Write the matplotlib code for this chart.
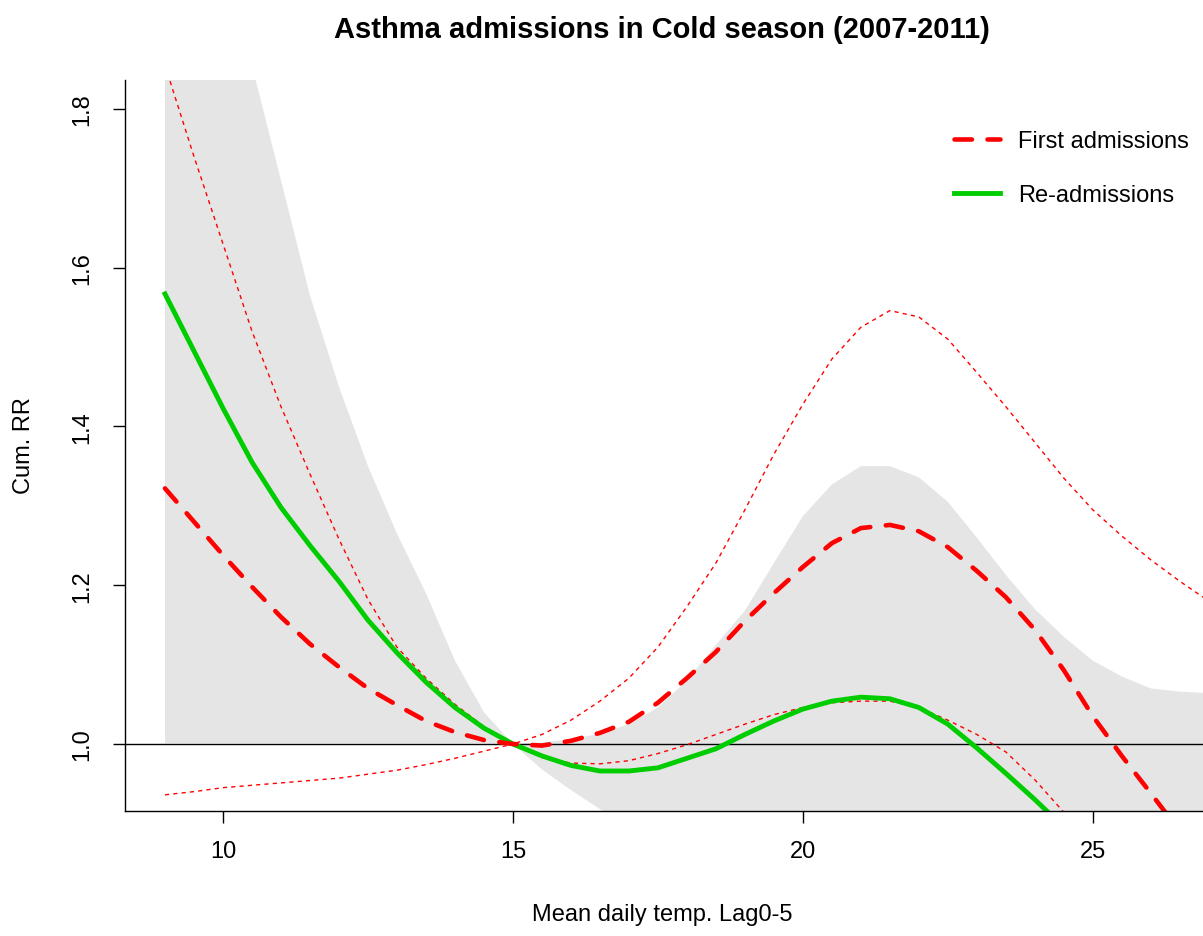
#!/usr/bin/env python

import matplotlib
matplotlib.use('Agg')
import matplotlib.pyplot as plt

plt.rcParams['font.family'] = ['Liberation Sans', 'DejaVu Sans']

# # Cumulative RR curves (lag 0-5), cold season

temp = [9.0, 9.5, 10.0, 10.5, 11.0, 11.5, 12.0, 12.5, 13.0, 13.5, 14.0, 14.5,
        15.0, 15.5, 16.0, 16.5, 17.0, 17.5, 18.0, 18.5, 19.0, 19.5, 20.0, 20.5,
        21.0, 21.5, 22.0, 22.5, 23.0, 23.5, 24.0, 24.5, 25.0, 25.5, 26.0, 26.5, 27.0]

# First admissions: estimate + 95% CI (red)
rr_first = [1.322, 1.280, 1.238, 1.198, 1.160, 1.126, 1.097, 1.070, 1.049, 1.029, 1.015, 1.005,
            1.000, 0.998, 1.004, 1.014, 1.028, 1.052, 1.083, 1.116, 1.155, 1.190, 1.223, 1.253,
            1.272, 1.276, 1.268, 1.248, 1.218, 1.185, 1.144, 1.093, 1.035, 0.985, 0.938, 0.890, 0.845]
hi_first = [1.855, 1.740, 1.630, 1.520, 1.425, 1.340, 1.258, 1.182, 1.122, 1.083, 1.050, 1.022,
            1.000, 1.012, 1.030, 1.054, 1.083, 1.122, 1.173, 1.228, 1.295, 1.365, 1.428, 1.485,
            1.525, 1.546, 1.538, 1.510, 1.468, 1.425, 1.380, 1.335, 1.295, 1.262, 1.232, 1.205, 1.180]
lo_first = [0.936, 0.940, 0.945, 0.948, 0.951, 0.954, 0.957, 0.962, 0.967, 0.974, 0.982, 0.991,
            1.000, 0.983, 0.976, 0.975, 0.979, 0.988, 0.999, 1.012, 1.025, 1.037, 1.046, 1.052,
            1.054, 1.054, 1.046, 1.030, 1.012, 0.990, 0.955, 0.914, 0.870, 0.820, 0.770, 0.720, 0.670]

# Re-admissions: estimate (green) + 95% CI (grey band)
rr_re = [1.567, 1.495, 1.423, 1.355, 1.298, 1.250, 1.205, 1.156, 1.115, 1.078, 1.046, 1.020,
         1.000, 0.985, 0.973, 0.966, 0.966, 0.970, 0.982, 0.994, 1.012, 1.029, 1.044, 1.054,
         1.059, 1.057, 1.046, 1.025, 0.995, 0.963, 0.930, 0.895, 0.860, 0.820, 0.780, 0.740, 0.700]
hi_re = [2.450, 2.220, 2.020, 1.855, 1.710, 1.565, 1.450, 1.350, 1.265, 1.190, 1.105, 1.040,
         1.000, 1.002, 1.006, 1.013, 1.025, 1.046, 1.080, 1.125, 1.168, 1.228, 1.287, 1.327,
         1.350, 1.350, 1.336, 1.305, 1.260, 1.213, 1.170, 1.135, 1.105, 1.085, 1.070, 1.066, 1.064]
lo_re = [1.001, 1.001, 1.001, 1.001, 1.001, 1.001, 1.001, 1.001, 1.001, 1.001, 1.001, 1.001,
         1.000, 0.968, 0.942, 0.918, 0.895, 0.875, 0.860, 0.850, 0.845, 0.840, 0.840, 0.840,
         0.835, 0.830, 0.820, 0.800, 0.780, 0.760, 0.740, 0.720, 0.700, 0.680, 0.660, 0.640, 0.620]

x_ticks = [10, 15, 20, 25]
y_ticks = [1.0, 1.2, 1.4, 1.6, 1.8]

RED = '#ff0000'
GREEN = '#00cd00'
GREY = '#e5e5e5'

W, H = 1203, 937
fig = plt.figure(figsize=(W / 100, H / 100), dpi=100)
ax = fig.add_axes([125 / W, 1 - 812 / H, (W - 125) / W, (812 - 81) / H])

ax.fill_between(temp, lo_re, hi_re, color=GREY, lw=0)
ax.axhline(1.0, color='black', lw=1.0)

ax.plot(temp, hi_first, color=RED, lw=1.0, dashes=(3, 3))
ax.plot(temp, lo_first, color=RED, lw=1.0, dashes=(3, 3))
ax.plot(temp, rr_re, color=GREEN, lw=3.5, label='Re-admissions')
ax.plot(temp, rr_first, color=RED, lw=3.3, dashes=(3.8, 3.4), dash_capstyle='round',
        label='First admissions')

ax.set_xlim(8.31, 26.9)
ax.set_ylim(0.9156, 1.8365)

ax.set_xticks(x_ticks)
ax.set_yticks(y_ticks)
ax.set_yticklabels(['{:.1f}'.format(v) for v in y_ticks], rotation=90, va='center')
ax.tick_params(axis='both', length=8.6, width=1.0, labelsize=17, direction='out')
ax.tick_params(axis='x', pad=12)
ax.tick_params(axis='y', pad=14)
for side in ['top', 'right']:
    ax.spines[side].set_visible(False)
for side in ['left', 'bottom']:
    ax.spines[side].set_linewidth(1.0)

handles, labels = ax.get_legend_handles_labels()
ax.legend(handles[::-1], labels[::-1], loc='upper left', bbox_to_anchor=(954 / W, 1 - 131 / H),
          bbox_transform=fig.transFigure, frameon=False, fontsize=17, handlelength=1.95,
          handletextpad=0.75, labelspacing=1.37, borderpad=0, borderaxespad=0)

fig.text(662 / W, 1 - 30 / H, 'Asthma admissions in Cold season (2007-2011)',
         ha='center', va='center', fontsize=21, fontweight='bold')
fig.text(662 / W, 1 - 915 / H, 'Mean daily temp. Lag0-5', ha='center', va='center', fontsize=17)
fig.text(24 / W, 1 - 446 / H, 'Cum. RR', ha='center', va='center', rotation=90, fontsize=17)

fig.savefig('out.png', dpi=100)
